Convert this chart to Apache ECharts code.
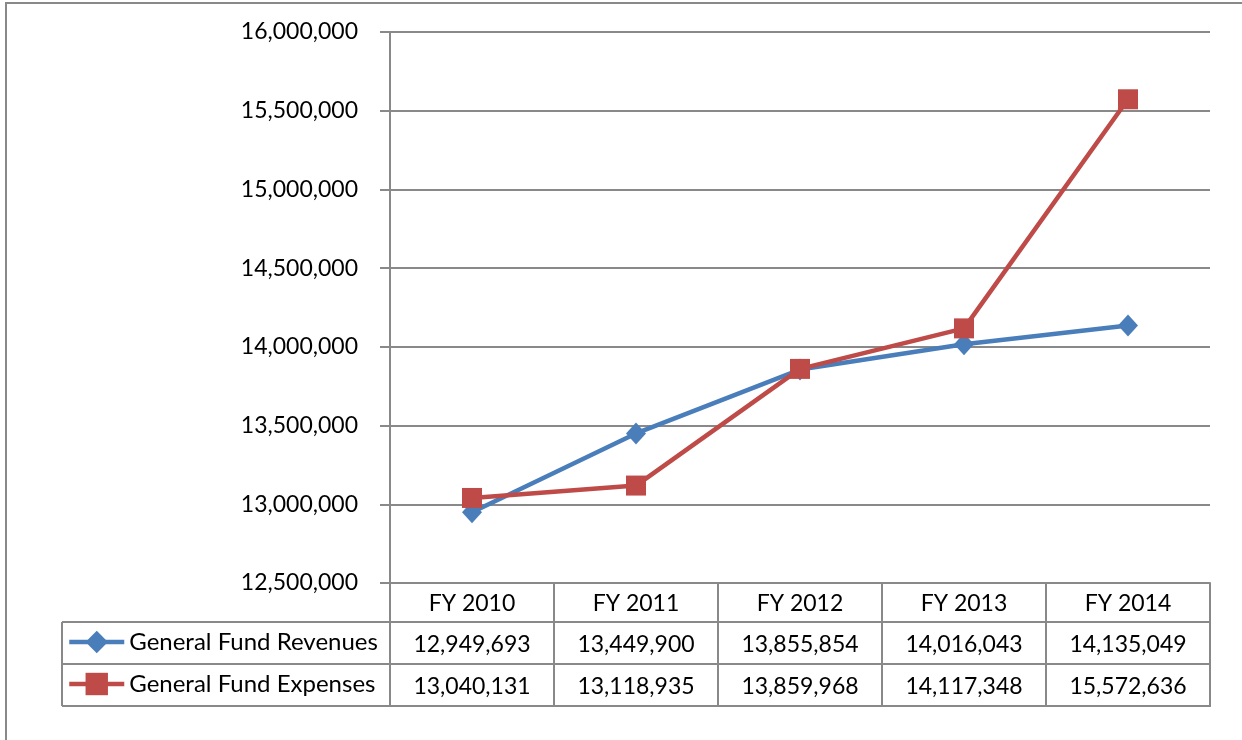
<!DOCTYPE html>
<html>
<head>
<meta charset="utf-8">
<script src="https://cdn.jsdelivr.net/npm/echarts@6/dist/echarts.min.js"></script>
<style>
  html, body { margin: 0; padding: 0; background: #fff; }
  #chart { width: 1242px; height: 740px; }
</style>
</head>
<body>
<div id="chart"></div>
<script>
// 数据
const categories = ['FY 2010', 'FY 2011', 'FY 2012', 'FY 2013', 'FY 2014']
const revenues = [12949693, 13449900, 13855854, 14016043, 14135049]
const expenses = [13040131, 13118935, 13859968, 14117348, 15572636]
const seriesNames = ['General Fund Revenues', 'General Fund Expenses']
const yTicks = { min: 12500000, max: 16000000, interval: 500000 }

const blue = '#4a7ebb'
const red = '#be4b48'
const gray = '#898989'
const font = 'Lato'

// 图表布局
const gridLeft = 390
const gridRight = 32
const gridTop = 32
const gridBottom = 157
const tableLeft = 62
const headerH = 39
const rowH = 42
const legendH = 28

const fmt = v => v.toLocaleString('en-US')

const chart = echarts.init(document.getElementById('chart'))
const axisBottom = 740 - gridBottom
const tableBottom = axisBottom + headerH + rowH * 2

// 数据表中的图例，每行一个
const legendFor = (name, row) => ({
  orient: 'vertical',
  left: tableLeft + 5,
  top: axisBottom + headerH + rowH * row + rowH / 2 + 1 - legendH / 2,
  padding: 0,
  itemWidth: 55,
  itemHeight: legendH,
  lineStyle: { width: 4.5 },
  textStyle: { fontSize: 24, color: '#000', fontFamily: font },
  data: [name]
})

const option = {
  animation: false,
  textStyle: { fontFamily: font },
  grid: { left: gridLeft, right: gridRight, top: gridTop, bottom: gridBottom },
  legend: [legendFor(seriesNames[0], 0), legendFor(seriesNames[1], 1)],
  xAxis: [
    {
      type: 'category',
      data: categories,
      boundaryGap: true,
      axisLine: { show: true, lineStyle: { color: gray, width: 2 } },
      axisTick: { show: true, interval: 0, length: headerH + rowH * 2, lineStyle: { color: gray, width: 2 } },
      axisLabel: { fontSize: 23, color: '#000', margin: 21, verticalAlign: 'middle', fontFamily: font }
    },
    {
      type: 'category',
      data: revenues.map(fmt),
      position: 'bottom',
      offset: headerH,
      axisLine: { show: false },
      axisTick: { show: false },
      axisLabel: { fontSize: 23, color: '#000', margin: rowH / 2 + 2, verticalAlign: 'middle', fontFamily: font }
    },
    {
      type: 'category',
      data: expenses.map(fmt),
      position: 'bottom',
      offset: headerH + rowH,
      axisLine: { show: false },
      axisTick: { show: false },
      axisLabel: { fontSize: 23, color: '#000', margin: rowH / 2 + 2, verticalAlign: 'middle', fontFamily: font }
    }
  ],
  yAxis: {
    type: 'value',
    min: yTicks.min,
    max: yTicks.max,
    interval: yTicks.interval,
    axisLine: { show: true, lineStyle: { color: gray, width: 2 } },
    axisTick: { show: true, length: 10, lineStyle: { color: gray, width: 2 } },
    splitLine: { show: true, lineStyle: { color: gray, width: 2 } },
    axisLabel: { fontSize: 23, color: '#000', margin: 32, formatter: v => fmt(v), fontFamily: font }
  },
  series: [
    {
      name: seriesNames[0],
      type: 'line',
      data: revenues,
      symbol: 'diamond',
      symbolSize: [20, 22],
      lineStyle: { color: blue, width: 4.5 },
      itemStyle: { color: blue }
    },
    {
      name: seriesNames[1],
      type: 'line',
      data: expenses,
      symbol: 'rect',
      symbolSize: 20,
      lineStyle: { color: red, width: 4.5 },
      itemStyle: { color: red }
    }
  ],
  graphic: [
    // 外框
    {
      type: 'rect',
      shape: { x: 6, y: 3, width: 1300, height: 800 },
      style: { fill: 'none', stroke: gray, lineWidth: 2 },
      silent: true
    },
    // 数据表横线
    ...[0, 1, 2].map(i => ({
      type: 'line',
      shape: {
        x1: tableLeft, y1: axisBottom + headerH + rowH * i,
        x2: 1242 - gridRight + 1, y2: axisBottom + headerH + rowH * i
      },
      style: { stroke: gray, lineWidth: 2 },
      silent: true
    })),
    // 数据表左边线
    {
      type: 'line',
      shape: { x1: tableLeft, y1: axisBottom + headerH, x2: tableLeft, y2: tableBottom },
      style: { stroke: gray, lineWidth: 2 },
      silent: true
    }
  ]
}
chart.setOption(option)
</script>
</body>
</html>
